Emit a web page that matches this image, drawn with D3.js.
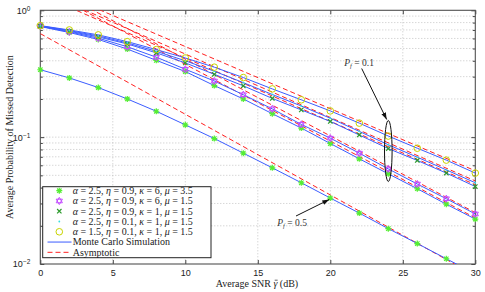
<!DOCTYPE html>
<html><head><meta charset="utf-8">
<script src="https://cdn.jsdelivr.net/npm/d3@7"></script>
<style>body{margin:0;background:#fff}</style>
</head><body><svg id="c" width="485" height="292" xmlns="http://www.w3.org/2000/svg"></svg>
<script>
// ---- data ----
const snr = [0,2,4,6,8,10,12,14,16,18,20,22,24,26,28,30];
// Pf = 0.1 group
const pA = [0.745,0.668,0.589,0.495,0.403,0.329,0.255,0.200,0.153,0.118,0.0891,0.0675,0.0514,0.0392,0.0296,0.0226]; // a2.5 e0.9 k6 m3.5
const pB = [0.748,0.676,0.603,0.516,0.427,0.343,0.277,0.216,0.167,0.126,0.0982,0.0748,0.0562,0.0427,0.0327,0.0248]; // a2.5 e0.9 k6 m1.5
const pC = [0.752,0.684,0.617,0.543,0.462,0.385,0.313,0.254,0.202,0.164,0.133,0.104,0.0813,0.0655,0.0521,0.0408]; // a2.5 e0.9 k1 m1.5
const pD = [0.755,0.692,0.628,0.553,0.475,0.400,0.331,0.269,0.217,0.176,0.141,0.111,0.0871,0.0695,0.0552,0.0437]; // a2.5 e0.1 k1 m1.5
const pE = [0.757,0.700,0.640,0.566,0.490,0.421,0.356,0.295,0.240,0.197,0.161,0.129,0.102,0.0818,0.0659,0.0521]; // a1.5 e0.1 k1 m1.5
// Pf = 0.5 curve
const pA5 = [0.340,0.293,0.246,0.200,0.160,0.125,0.0975,0.0748,0.0573,0.0437,0.0331,0.0252,0.0190,0.0145,0.0110,0.00838];
// asymptotic straight lines, values at snr 0 and 30
const asymSnr = [0,30];
const aA = [1.51,0.0231];
const aB = [1.66,0.0254];
const aC = [1.33,0.0422];
const aD = [1.43,0.0452];
const aE = [1.60,0.0543];
const aA5 = [0.655,0.0081];
const xTicks = [0,5,10,15,20,25,30];
const yMajor = [0.01,0.1,1];
const legendLabels = [
  ["2.5","0.9","6","3.5"],
  ["2.5","0.9","6","1.5"],
  ["2.5","0.9","1","1.5"],
  ["2.5","0.1","1","1.5"],
  ["1.5","0.1","1","1.5"]
];

// ---- setup ----
const svg = d3.select("#c");
const L=40.3,R=475.3,T=10.3,B=264;
const x = d3.scaleLinear([0,30],[L,R]);
const y = d3.scaleLog([0.01,1],[B,T]);
const serif = "'Liberation Serif','Times New Roman',serif";
const sans = "'Liberation Sans',Arial,sans-serif";
const FS = "10px";

const BLUE="#3b5cff", RED="#ff2020";
const styles = [
  {m:"aster", c:"#55ee33"},
  {m:"hex",   c:"#c44dff"},
  {m:"x",     c:"#2c9a2c"},
  {m:"dot",   c:"#33e0e0"},
  {m:"circ",  c:"#c8d400"}
];
const curves = [
  {v:pA, a:aA, s:styles[0]},
  {v:pB, a:aB, s:styles[1]},
  {v:pC, a:aC, s:styles[2]},
  {v:pD, a:aD, s:styles[3]},
  {v:pE, a:aE, s:styles[4]},
  {v:pA5, a:aA5, s:styles[0]}
];

svg.append("defs").append("clipPath").attr("id","clip")
  .append("rect").attr("x",L).attr("y",T).attr("width",R-L).attr("height",B-T);
const defs = svg.select("defs");
defs.append("marker").attr("id","arr").attr("viewBox","0 0 10 10").attr("refX",10).attr("refY",5)
  .attr("markerWidth",7).attr("markerHeight",7).attr("orient","auto").attr("markerUnits","userSpaceOnUse")
  .append("path").attr("d","M0,1.5 L10,5 L0,8.5 Z").attr("fill","#111");

// grid
const g = svg.append("g");
const minor = [];
[0.01,0.1].forEach(d=>{for(let k=1;k<=9;k++) minor.push(k*d);});
g.selectAll("line.gy").data(minor.filter(v=>v>0.01 && v<1)).join("line")
  .attr("x1",L).attr("x2",R).attr("y1",d=>y(d)).attr("y2",d=>y(d))
  .attr("stroke","#b8b8b8").attr("stroke-width",0.8).attr("stroke-dasharray","1,2");
g.selectAll("line.gx").data(xTicks.filter(v=>v>0&&v<30)).join("line")
  .attr("x1",d=>x(d)).attr("x2",d=>x(d)).attr("y1",T).attr("y2",B)
  .attr("stroke","#b8b8b8").attr("stroke-width",0.8).attr("stroke-dasharray","1,2");

// axes
function styleAxis(sel){ sel.select(".domain").remove(); sel.selectAll("line").attr("stroke","#444"); sel.selectAll("text").attr("fill","#222").style("font-family",sans).style("font-size","9px"); }
svg.append("g").attr("transform",`translate(0,${B})`).call(d3.axisBottom(x).tickValues(xTicks).tickSize(-4).tickPadding(6).tickFormat(d3.format("d"))).call(styleAxis);
svg.append("g").attr("transform",`translate(0,${T})`).call(d3.axisTop(x).tickValues(xTicks).tickSize(-4).tickFormat("")).call(styleAxis);
const minorOnly = minor.filter(v=>!yMajor.includes(v) && v>0.01);
svg.append("g").attr("transform",`translate(${L},0)`).call(d3.axisLeft(y).tickValues(yMajor).tickSize(-4).tickPadding(5).tickFormat(d=>"10")).call(styleAxis);
svg.append("g").attr("transform",`translate(${L},0)`).call(d3.axisLeft(y).tickValues(minorOnly).tickSize(-2.5).tickFormat("")).call(styleAxis);
svg.append("g").attr("transform",`translate(${R},0)`).call(d3.axisRight(y).tickValues(yMajor).tickSize(-4).tickFormat("")).call(styleAxis);
svg.append("g").attr("transform",`translate(${R},0)`).call(d3.axisRight(y).tickValues(minorOnly).tickSize(-2.5).tickFormat("")).call(styleAxis);
// superscripts on y labels
svg.selectAll("g.tick text").each(function(d){
  if(yMajor.includes(d) && d3.select(this).text()==="10"){
    const t=d3.select(this);
    t.attr("x",-10);
    t.append("tspan").attr("dy","-0.45em").style("font-size","6.5px").text(Math.round(Math.log10(d))===0?"0":"\u2212"+(-Math.round(Math.log10(d))));
  }
});

svg.append("rect").attr("x",L).attr("y",T).attr("width",R-L).attr("height",B-T)
  .attr("fill","none").attr("stroke","#505050").attr("stroke-width",1.1);

// curves
const plot = svg.append("g").attr("clip-path","url(#clip)");
const line = d3.line().x(d=>x(d[0])).y(d=>y(d[1]));
curves.forEach(cv=>{
  plot.append("path").datum(asymSnr.map((s,i)=>[s,cv.a[i]])).attr("d",line)
    .attr("fill","none").attr("stroke",RED).attr("stroke-width",1).attr("stroke-dasharray","5,3");
});
curves.forEach(cv=>{
  plot.append("path").datum(snr.map((s,i)=>[s,cv.v[i]])).attr("d",line)
    .attr("fill","none").attr("stroke",BLUE).attr("stroke-width",1);
});

function drawMarker(sel, type, c){
  if(type==="circ") sel.append("circle").attr("r",3.3).attr("fill","none").attr("stroke",c).attr("stroke-width",1);
  else if(type==="dot") sel.append("circle").attr("r",0.9).attr("fill",c);
  else if(type==="x") sel.append("path").attr("d","M-2.2,-2.2L2.2,2.2M-2.2,2.2L2.2,-2.2").attr("stroke",c).attr("stroke-width",1.2);
  else if(type==="aster") sel.append("path").attr("d","M-3,0L3,0M0,-3L0,3M-2.2,-2.2L2.2,2.2M-2.2,2.2L2.2,-2.2").attr("stroke",c).attr("stroke-width",1.2);
  else if(type==="hex"){
    const r=3.6, tri=a=>d3.range(3).map(i=>{const t=a+i*2*Math.PI/3;return [r*Math.sin(t),-r*Math.cos(t)];});
    const p=pts=>"M"+pts.map(q=>q.join(",")).join("L")+"Z";
    sel.append("path").attr("d",p(tri(0))+p(tri(Math.PI))).attr("fill","none").attr("stroke",c).attr("stroke-width",1);
  }
}
const mk = svg.append("g");
curves.forEach(cv=>{
  snr.forEach((s,i)=>{
    const v=cv.v[i];
    if(v<0.01) return;
    const gg = mk.append("g").attr("transform",`translate(${x(s)},${y(v)})`);
    drawMarker(gg, cv.s.m, cv.s.c);
  });
});

// axis labels
const xl = svg.append("text").attr("x",257).attr("y",287).attr("text-anchor","middle")
  .style("font-family",serif).style("font-size",FS).attr("fill","#222")
  .html("Average SNR <tspan font-style='italic'>γ</tspan> (dB)");
// macron over gamma
{
  const node = xl.node();
  const idx = "Average SNR ".length;
  const ext = node.getExtentOfChar(idx);
  svg.append("line").attr("x1",ext.x+1.3).attr("x2",ext.x+ext.width+0.3)
    .attr("y1",ext.y+2.2).attr("y2",ext.y+2.2).attr("stroke","#222").attr("stroke-width",0.7);
}
svg.append("text").attr("transform",`translate(13,${(T+B)/2}) rotate(-90)`).attr("text-anchor","middle")
  .style("font-family",serif).style("font-size",FS).attr("fill","#222")
  .text("Average Probability of Missed Detection");

// legend
const lg = svg.append("g");
lg.append("rect").attr("x",42.7).attr("y",186.7).attr("width",168.3).attr("height",71)
  .attr("fill","#fff").attr("stroke","#222").attr("stroke-width",1);
const rowY = i=>190.7+i*10.27;
legendLabels.forEach((lab,i)=>{
  const gg = lg.append("g").attr("transform",`translate(59.3,${rowY(i)})`);
  drawMarker(gg, styles[i].m, styles[i].c);
  lg.append("text").attr("x",72.7).attr("y",rowY(i)+3.4)
    .style("font-family",serif).style("font-size",FS).attr("fill","#222")
    .html(`<tspan font-style="italic">α</tspan> = ${lab[0]}, <tspan font-style="italic">η</tspan> = ${lab[1]}, <tspan font-style="italic">κ</tspan> = ${lab[2]}, <tspan font-style="italic">μ</tspan> = ${lab[3]}`);
});
lg.append("line").attr("x1",47.5).attr("x2",71.5).attr("y1",rowY(5)).attr("y2",rowY(5)).attr("stroke",BLUE).attr("stroke-width",1);
lg.append("text").attr("x",72.7).attr("y",rowY(5)+3.4).style("font-family",serif).style("font-size",FS).attr("fill","#222").text("Monte Carlo Simulation");
lg.append("line").attr("x1",47.5).attr("x2",71.5).attr("y1",rowY(6)).attr("y2",rowY(6)).attr("stroke",RED).attr("stroke-width",1).attr("stroke-dasharray","5,3");
lg.append("text").attr("x",72.7).attr("y",rowY(6)+3.4).style("font-family",serif).style("font-size",FS).attr("fill","#222").text("Asymptotic");

// annotations
const an = svg.append("g");
an.append("ellipse").attr("cx",x(24)).attr("cy",151).attr("rx",3.8).attr("ry",30.5)
  .attr("fill","none").attr("stroke","#111").attr("stroke-width",1);
an.append("text").attr("x",344.3).attr("y",65.5).style("font-family",serif).style("font-size","9.5px").attr("fill","#333")
  .html("<tspan font-style='italic'>P</tspan><tspan font-style='italic' font-size='6.5px' dy='2'>f</tspan><tspan dy='-2'> = 0.1</tspan>");
an.append("line").attr("x1",361.7).attr("y1",68.5).attr("x2",386.7).attr("y2",119.5).attr("stroke","#111").attr("stroke-width",1).attr("marker-end","url(#arr)");
an.append("text").attr("x",277.3).attr("y",225.8).style("font-family",serif).style("font-size","9.5px").attr("fill","#333")
  .html("<tspan font-style='italic'>P</tspan><tspan font-style='italic' font-size='6.5px' dy='2'>f</tspan><tspan dy='-2'> = 0.5</tspan>");
an.append("line").attr("x1",296).attr("y1",216).attr("x2",329.3).attr("y2",199.5).attr("stroke","#111").attr("stroke-width",1).attr("marker-end","url(#arr)");
</script>
</body></html>
